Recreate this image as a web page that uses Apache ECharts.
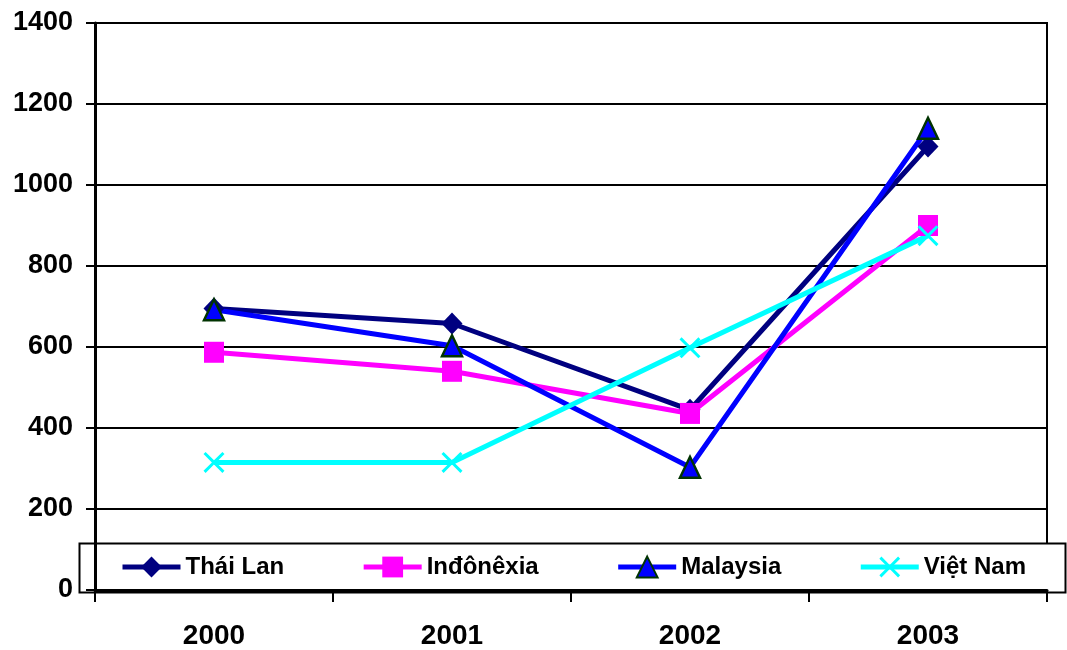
<!DOCTYPE html>
<html>
<head>
<meta charset="utf-8">
<script src="https://cdn.jsdelivr.net/npm/echarts@6/dist/echarts.min.js"></script>
<style>
  html, body { margin: 0; padding: 0; background: #fff; }
  #chart { width: 1067px; height: 650px; }
</style>
</head>
<body>
<div id="chart"></div>
<script>
// Years on the category axis
const years = ['2000', '2001', '2002', '2003'];

// Values per country
const thaiLan   = [695, 658, 445, 1095];
const indonexia = [587, 540, 436, 900];
const malaysia  = [692, 603, 303, 1140];
const vietNam   = [315, 315, 598, 875];

// Value axis range
const yMin = 0;
const yMax = 1400;
const yStep = 200;

const FONT = '"Liberation Sans", Arial, sans-serif';

// Thick "x" marker
const crossPath = 'path://M0,1 L1,0 L5,4 L9,0 L10,1 L6,5 L10,9 L9,10 L5,6 L1,10 L0,9 L4,5 Z';

const chart = echarts.init(document.getElementById('chart'), null, { renderer: 'canvas' });

chart.setOption({
  animation: false,
  backgroundColor: '#ffffff',
  grid: {
    left: 95, right: 20, top: 23, bottom: 59,
    show: true, borderColor: '#000', borderWidth: 2, backgroundColor: 'transparent', z: 0
  },
  graphic: [{
    type: 'rect',
    z: 1,
    shape: { x: 79.5, y: 543.5, width: 986, height: 49 },
    style: { fill: '#ffffff', stroke: '#000', lineWidth: 2 }
  }],
  legend: {
    z: 5,
    left: 120,
    top: 555,
    padding: 0,
    itemGap: 77,
    itemWidth: 58,
    itemHeight: 26,
    lineStyle: { width: 5 },
    textStyle: { fontFamily: FONT, fontWeight: 'bold', fontSize: 24, color: '#000', padding: [4, 0, 0, 0] },
    data: ['Thái Lan', 'Inđônêxia', 'Malaysia', 'Việt Nam']
  },
  xAxis: {
    type: 'category',
    data: years,
    boundaryGap: true,
    z: 3,
    axisLine: { lineStyle: { color: '#000', width: 3 } },
    axisTick: { show: true, length: 12, alignWithLabel: false, lineStyle: { color: '#000', width: 2 } },
    axisLabel: { margin: 32, color: '#000', fontFamily: FONT, fontWeight: 'bold', fontSize: 28 },
    splitLine: { show: false }
  },
  yAxis: {
    type: 'value',
    min: yMin, max: yMax, interval: yStep,
    z: 3,
    axisLine: { show: true, lineStyle: { color: '#000', width: 3 } },
    axisTick: { show: true, length: 9, lineStyle: { color: '#000', width: 2 } },
    axisLabel: {
      margin: 22, color: '#000', fontFamily: FONT, fontWeight: 'bold', fontSize: 27,
      formatter: (v) => String(v)
    },
    splitLine: { show: true, lineStyle: { color: '#000', width: 2 } }
  },
  series: [
    {
      name: 'Thái Lan', type: 'line', data: thaiLan,
      symbol: 'diamond', symbolSize: [21, 22],
      itemStyle: { color: '#000080' },
      lineStyle: { color: '#000080', width: 5 }
    },
    {
      name: 'Inđônêxia', type: 'line', data: indonexia,
      symbol: 'rect', symbolSize: [20, 21],
      itemStyle: { color: '#ff00ff' },
      lineStyle: { color: '#ff00ff', width: 5 }
    },
    {
      name: 'Malaysia', type: 'line', data: malaysia,
      symbol: 'triangle', symbolSize: [20, 21],
      itemStyle: { color: '#0000ff', borderColor: '#003300', borderWidth: 2.5 },
      lineStyle: { color: '#0000ff', width: 5 }
    },
    {
      name: 'Việt Nam', type: 'line', data: vietNam,
      symbol: crossPath, symbolSize: 21,
      itemStyle: { color: '#00ffff' },
      lineStyle: { color: '#00ffff', width: 5 }
    }
  ]
});
</script>
</body>
</html>
